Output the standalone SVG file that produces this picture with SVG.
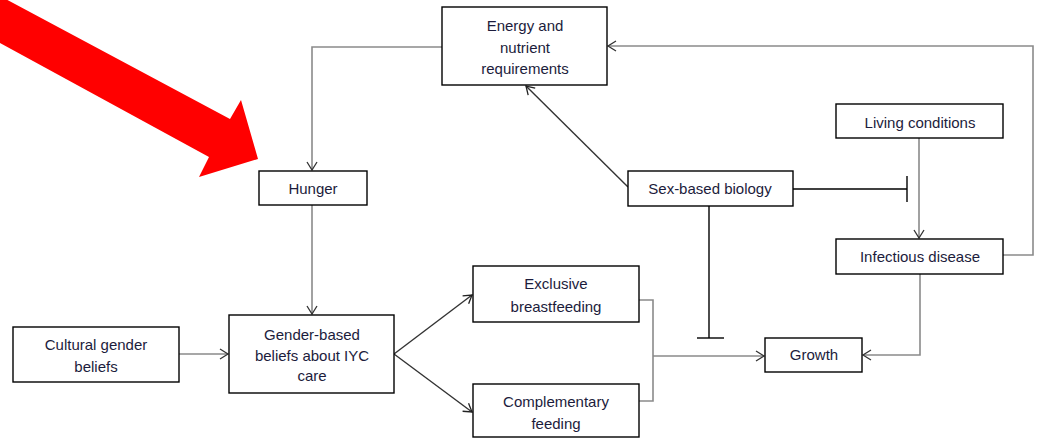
<svg xmlns="http://www.w3.org/2000/svg" width="1038" height="439" viewBox="0 0 1038 439">
<defs>
<style>
.box{fill:#fff;stroke:#000;stroke-width:1.4}
.t{font-family:"Liberation Sans",Arial,sans-serif;font-size:15px;fill:#1c1c3c;text-anchor:middle}
.g{fill:none;stroke:#8a8a8a;stroke-width:1.6}
.d{fill:none;stroke:#333;stroke-width:1.4}
.k{fill:none;stroke:#000;stroke-width:1.4}
</style>
<marker id="ag" markerUnits="userSpaceOnUse" markerWidth="12" markerHeight="12" refX="9" refY="6" orient="auto" viewBox="0 0 12 12"><path d="M1,1 L9,6 L1,11" fill="none" stroke="#333" stroke-width="1.3"/></marker>
<marker id="ad" markerUnits="userSpaceOnUse" markerWidth="12" markerHeight="12" refX="9" refY="6" orient="auto" viewBox="0 0 12 12"><path d="M1,1 L9,6 L1,11" fill="none" stroke="#222" stroke-width="1.3"/></marker>
</defs>
<rect width="1038" height="439" fill="#fff"/>
<g id="connectors">
<polyline class="g" points="442,47 312,47 312,170" marker-end="url(#ag)"/>
<line class="g" x1="312" y1="205" x2="312" y2="314" marker-end="url(#ag)"/>
<polyline class="g" points="1003,255 1033,255 1033,46 608,46" marker-end="url(#ag)"/>
<line class="d" x1="628" y1="187" x2="526" y2="86" marker-end="url(#ad)"/>
<line class="k" x1="793" y1="189" x2="907" y2="189"/>
<line class="k" x1="907" y1="176" x2="907" y2="202"/>
<line class="k" x1="709" y1="206" x2="709" y2="338"/>
<line class="k" x1="697" y1="338" x2="724" y2="338"/>
<line class="g" x1="919" y1="138" x2="919" y2="238" marker-end="url(#ag)"/>
<polyline class="g" points="920,274 920,355 863,355" marker-end="url(#ag)"/>
<line class="g" x1="179" y1="354" x2="228" y2="354" marker-end="url(#ag)"/>
<line class="d" x1="394" y1="354" x2="472" y2="295" marker-end="url(#ad)"/>
<line class="d" x1="394" y1="354" x2="472" y2="412" marker-end="url(#ad)"/>
<polyline class="g" points="639,300 653,300 653,401 639,401"/>
<line class="g" x1="653" y1="356" x2="764" y2="356" marker-end="url(#ag)"/>
</g>
<g id="energy"><rect class="box" x="442" y="7" width="165" height="78"/>
<text class="t" x="525" y="31">Energy and</text><text class="t" x="525" y="53">nutrient</text><text class="t" x="525" y="74">requirements</text></g>
<g id="hunger"><rect class="box" x="259" y="171" width="108" height="34"/><text class="t" x="313" y="194">Hunger</text></g>
<g id="living"><rect class="box" x="836" y="104" width="167" height="34"/><text class="t" x="920" y="128">Living conditions</text></g>
<g id="sex"><rect class="box" x="628" y="171" width="165" height="35"/><text class="t" x="710" y="194">Sex-based biology</text></g>
<g id="infectious"><rect class="box" x="836" y="239" width="167" height="35"/><text class="t" x="920" y="262">Infectious disease</text></g>
<g id="cultural"><rect class="box" x="13" y="327" width="166" height="55"/><text class="t" x="96" y="350">Cultural gender</text><text class="t" x="96" y="372">beliefs</text></g>
<g id="gender"><rect class="box" x="229" y="315" width="165" height="78"/><text class="t" x="312" y="340">Gender-based</text><text class="t" x="312" y="361">beliefs about IYC</text><text class="t" x="312" y="381">care</text></g>
<g id="exclusive"><rect class="box" x="473" y="266" width="166" height="56"/><text class="t" x="556" y="289">Exclusive</text><text class="t" x="556" y="312">breastfeeding</text></g>
<g id="complementary"><rect class="box" x="473" y="384" width="166" height="53"/><text class="t" x="556" y="407">Complementary</text><text class="t" x="556" y="429">feeding</text></g>
<g id="growth"><rect class="box" x="765" y="338" width="97" height="34"/><text class="t" x="814" y="360">Growth</text></g>
<polygon points="0,-4 230,119 241,100 258,159 199,177 209,157 0,43" fill="#ff0000"/>
</svg>
